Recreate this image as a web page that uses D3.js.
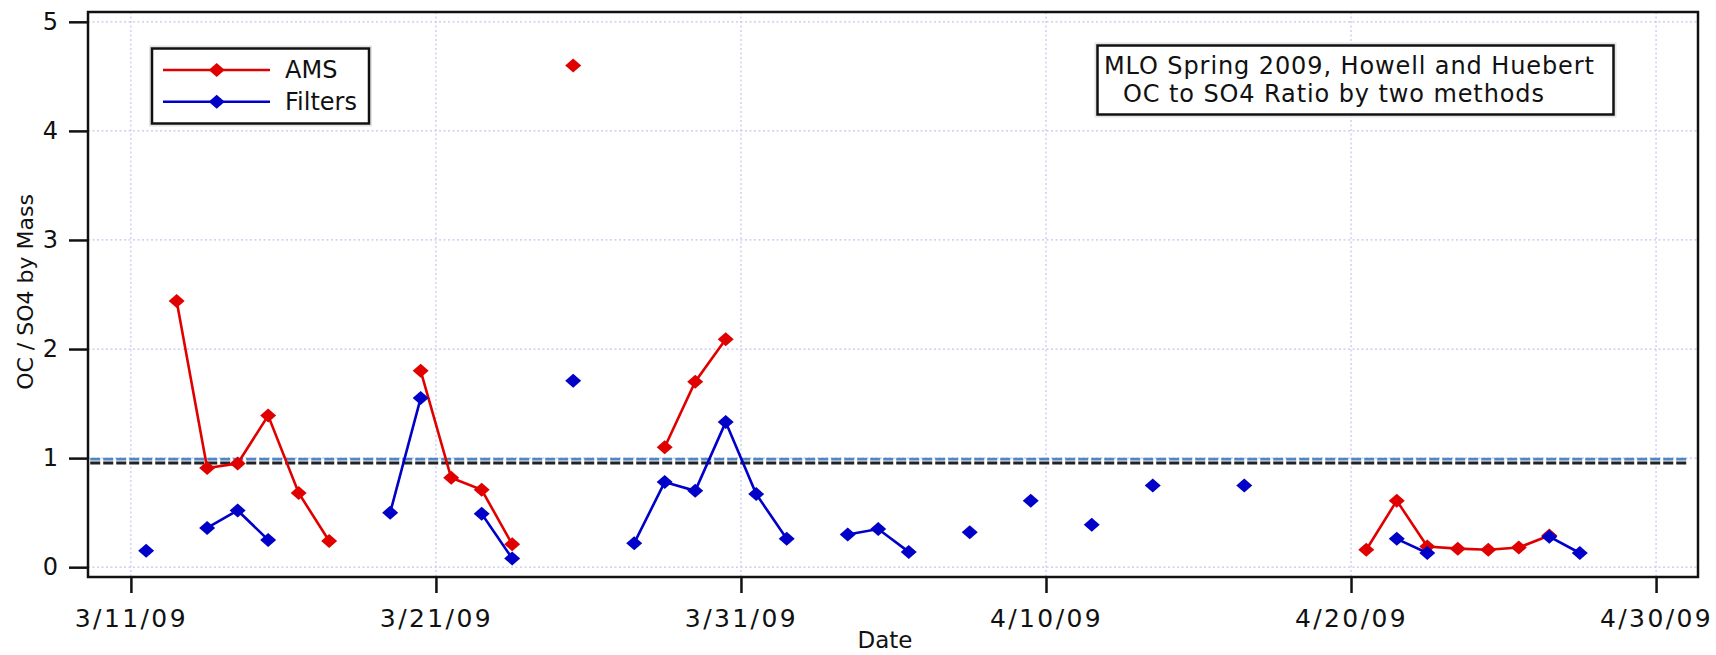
<!DOCTYPE html>
<html>
<head>
<meta charset="utf-8">
<script src="https://cdn.jsdelivr.net/npm/d3@7"></script>
<style>
  body { margin: 0; background: #fff; }
  text { font-family: "DejaVu Sans", Verdana, sans-serif; fill: #111; }
</style>
</head>
<body>
<div id="chart"></div>
<script>
// AMS series (OC / SO4 ratio), one sample per day at noon
const amsDates = [
  "2009-03-12 12:00", "2009-03-13 12:00", "2009-03-14 12:00", "2009-03-15 12:00",
  "2009-03-16 12:00", "2009-03-17 12:00",
  "2009-03-20 12:00", "2009-03-21 12:00", "2009-03-22 12:00", "2009-03-23 12:00",
  "2009-03-25 12:00",
  "2009-03-28 12:00", "2009-03-29 12:00", "2009-03-30 12:00",
  "2009-04-20 12:00", "2009-04-21 12:00", "2009-04-22 12:00", "2009-04-23 12:00",
  "2009-04-24 12:00", "2009-04-25 12:00", "2009-04-26 12:00"
];
const amsValues = [
  2.44, 0.91, 0.95, 1.39,
  0.68, 0.24,
  1.80, 0.82, 0.71, 0.21,
  4.60,
  1.10, 1.70, 2.09,
  0.16, 0.61, 0.19, 0.17,
  0.16, 0.18, 0.29
];

// Filter series
const filterDates = [
  "2009-03-11 12:00",
  "2009-03-13 12:00", "2009-03-14 12:00", "2009-03-15 12:00",
  "2009-03-19 12:00", "2009-03-20 12:00",
  "2009-03-22 12:00", "2009-03-23 12:00",
  "2009-03-25 12:00",
  "2009-03-27 12:00", "2009-03-28 12:00", "2009-03-29 12:00", "2009-03-30 12:00",
  "2009-03-31 12:00", "2009-04-01 12:00",
  "2009-04-03 12:00", "2009-04-04 12:00", "2009-04-05 12:00",
  "2009-04-07 12:00", "2009-04-09 12:00", "2009-04-11 12:00",
  "2009-04-13 12:00", "2009-04-16 12:00",
  "2009-04-21 12:00", "2009-04-22 12:00",
  "2009-04-26 12:00", "2009-04-27 12:00"
];
const filterValues = [
  0.15,
  0.36, 0.52, 0.25,
  0.50, 1.55,
  0.49, 0.08,
  1.71,
  0.22, 0.78, 0.70, 1.33,
  0.67, 0.26,
  0.30, 0.35, 0.14,
  0.32, 0.61, 0.39,
  0.75, 0.75,
  0.26, 0.13,
  0.28, 0.13
];

// dashed reference levels
const refValues = [0.99, 0.955];
const refColors = ["#4f86c6", "#222222"];
const refRange = ["2009-03-09 16:00", "2009-05-01 02:00"];

const xTickDates = ["2009-03-11", "2009-03-21", "2009-03-31", "2009-04-10", "2009-04-20", "2009-04-30"];
const yTicks = [0, 1, 2, 3, 4, 5];

const parseTime = d3.timeParse("%Y-%m-%d %H:%M");
const parseDay = d3.timeParse("%Y-%m-%d");
const fmt = d3.timeFormat("%-m/%-d/%y");

const W = 1716, H = 655;
const plotL = 88, plotR = 1698, plotT = 12, plotB = 577;

const svg = d3.select("#chart").append("svg")
  .attr("width", W)
  .attr("height", H);

const x = d3.scaleTime()
  .domain([parseTime("2009-03-09 14:15"), parseTime("2009-05-01 09:00")])
  .range([plotL, plotR]);

const y = d3.scaleLinear()
  .domain([-0.09, 5.09])
  .range([plotB, plotT]);

// grid
const grid = svg.append("g")
  .attr("stroke", "#c4c4f0")
  .attr("stroke-width", 1.2)
  .attr("stroke-dasharray", "2,2.5");
grid.selectAll(".gx").data(xTickDates).join("line")
  .attr("x1", d => x(parseDay(d))).attr("x2", d => x(parseDay(d)))
  .attr("y1", plotT).attr("y2", plotB);
grid.selectAll(".gy").data(yTicks).join("line")
  .attr("x1", plotL).attr("x2", plotR)
  .attr("y1", d => y(d)).attr("y2", d => y(d));

// reference lines
svg.append("g").selectAll("line").data(refValues).join("line")
  .attr("x1", x(parseTime(refRange[0])))
  .attr("x2", x(parseTime(refRange[1])))
  .attr("y1", d => y(d)).attr("y2", d => y(d))
  .attr("stroke", (d, i) => refColors[i])
  .attr("stroke-width", 2.8)
  .attr("stroke-dasharray", "10,3");

// axes
const xAxis = svg.append("g")
  .attr("transform", `translate(0,${plotB})`)
  .call(d3.axisBottom(x)
    .tickValues(xTickDates.map(parseDay))
    .tickFormat(fmt)
    .tickSize(16)
    .tickPadding(16));
xAxis.select(".domain").remove();
xAxis.selectAll("line").attr("stroke", "#111").attr("stroke-width", 2.5);
xAxis.selectAll("text")
  .attr("font-size", 25)
  .attr("letter-spacing", 2.4)
  .attr("fill", "#111")
  .style("font-family", "DejaVu Sans, sans-serif");

const yAxis = svg.append("g")
  .attr("transform", `translate(${plotL},0)`)
  .call(d3.axisLeft(y)
    .tickValues(yTicks)
    .tickFormat(d3.format("d"))
    .tickSize(19)
    .tickPadding(11));
yAxis.select(".domain").remove();
yAxis.selectAll("line").attr("stroke", "#111").attr("stroke-width", 2.5);
yAxis.selectAll("text")
  .attr("font-size", 24)
  .attr("fill", "#111")
  .style("font-family", "DejaVu Sans, sans-serif");

// frame
svg.append("rect")
  .attr("x", plotL).attr("y", plotT)
  .attr("width", plotR - plotL).attr("height", plotB - plotT)
  .attr("fill", "none")
  .attr("stroke", "#111")
  .attr("stroke-width", 2.5);

// axis titles
svg.append("text")
  .attr("x", 885).attr("y", 648)
  .attr("text-anchor", "middle")
  .attr("font-size", 23)
  .text("Date");

svg.append("text")
  .attr("transform", "translate(33,292) rotate(-90)")
  .attr("text-anchor", "middle")
  .attr("font-size", 22)
  .text("OC / SO4 by Mass");

// series
const diamond = "M0,-7L8,0L0,7L-8,0Z";

function drawSeries(dates, values, color) {
  const pts = dates.map((d, i) => ({ t: parseTime(d), v: values[i] }));
  // break the line where a day is missing
  const segs = [];
  pts.forEach((p, i) => {
    if (i === 0 || (p.t - pts[i - 1].t) > 1.5 * 864e5) segs.push([]);
    segs[segs.length - 1].push(p);
  });
  const line = d3.line().x(p => x(p.t)).y(p => y(p.v));
  const g = svg.append("g");
  g.selectAll("path.seg").data(segs.filter(s => s.length > 1)).join("path")
    .attr("class", "seg")
    .attr("d", line)
    .attr("fill", "none")
    .attr("stroke", color)
    .attr("stroke-width", 2.6);
  g.selectAll("path.pt").data(pts).join("path")
    .attr("class", "pt")
    .attr("d", diamond)
    .attr("transform", p => `translate(${x(p.t)},${y(p.v)})`)
    .attr("fill", color);
}

drawSeries(amsDates, amsValues, "#e00000");
drawSeries(filterDates, filterValues, "#0000c8");

// legend
const legend = svg.append("g");
legend.append("rect")
  .attr("x", 150).attr("y", 46.5).attr("width", 221).attr("height", 79)
  .attr("fill", "none").attr("stroke", "#e4e4e4").attr("stroke-width", 2);
legend.append("rect")
  .attr("x", 152).attr("y", 48.5).attr("width", 217).attr("height", 75)
  .attr("fill", "#fff").attr("stroke", "#111").attr("stroke-width", 2.5);
const legendItems = [["AMS", "#e00000"], ["Filters", "#0000c8"]];
legendItems.forEach(([name, color], i) => {
  const cy = 70 + i * 31.7;
  legend.append("line")
    .attr("x1", 163).attr("x2", 270).attr("y1", cy).attr("y2", cy)
    .attr("stroke", color).attr("stroke-width", 2.6);
  legend.append("path")
    .attr("d", diamond)
    .attr("transform", `translate(216.7,${cy})`)
    .attr("fill", color);
  legend.append("text")
    .attr("x", 285).attr("y", cy + 8)
    .attr("font-size", 24)
    .text(name);
});

// annotation box
const note = svg.append("g");
note.append("rect")
  .attr("x", 1095.5).attr("y", 43.5).attr("width", 520).attr("height", 73)
  .attr("fill", "none").attr("stroke", "#e4e4e4").attr("stroke-width", 2);
note.append("rect")
  .attr("x", 1097.5).attr("y", 45.5).attr("width", 516).attr("height", 69)
  .attr("fill", "#fff").attr("stroke", "#111").attr("stroke-width", 2.5);
note.append("text")
  .attr("x", 1104).attr("y", 74)
  .attr("font-size", 24)
  .attr("letter-spacing", 0.9)
  .text("MLO Spring 2009, Howell and Huebert");
note.append("text")
  .attr("x", 1123).attr("y", 101.7)
  .attr("font-size", 24)
  .attr("letter-spacing", 0.9)
  .text("OC to SO4 Ratio by two methods");
</script>
</body>
</html>
